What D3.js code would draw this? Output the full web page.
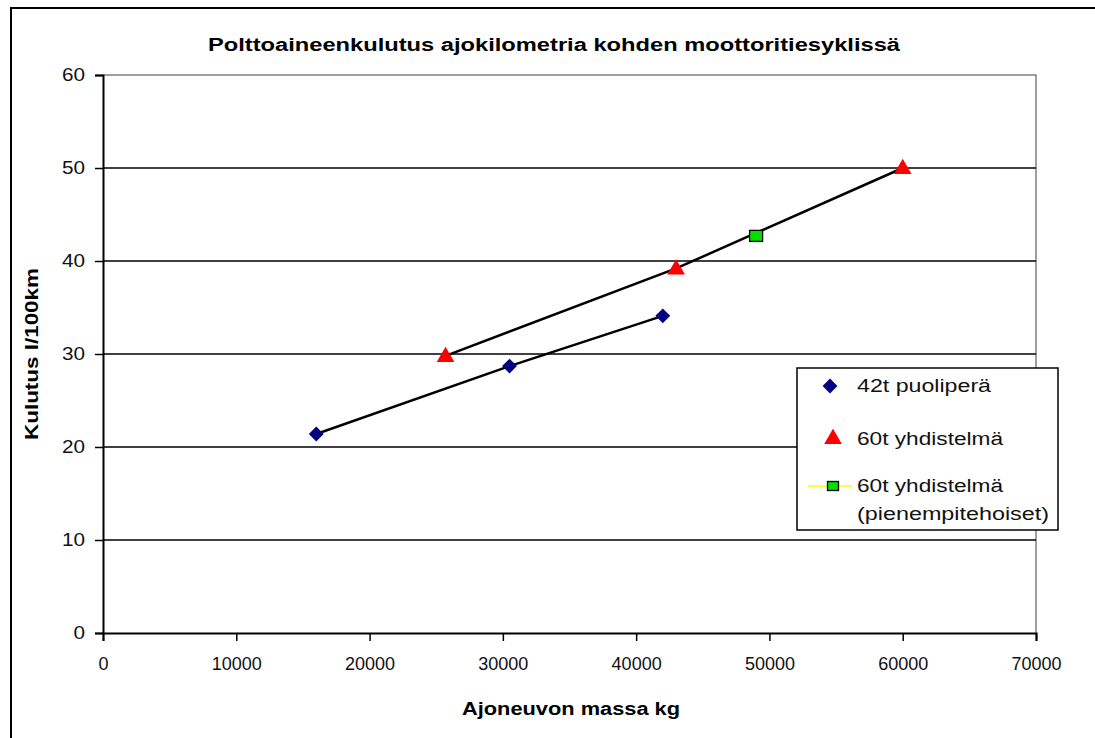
<!DOCTYPE html>
<html>
<head>
<meta charset="utf-8">
<script src="https://cdn.jsdelivr.net/npm/d3@7/dist/d3.min.js"></script>
<style>
  html, body { margin: 0; padding: 0; background: #fff; }
  svg { display: block; font-family: "Liberation Sans", Arial, sans-serif; }
</style>
</head>
<body>
<svg id="chart" width="1095" height="738"></svg>
<script>
// Fuel consumption per 100 km on the motorway cycle vs. vehicle mass
const massSemi = [16000, 30500, 42000];      // 42t puoliperä
const fuelSemi = [21.4, 28.7, 34.1];
const massCombo = [25700, 43000, 60000];     // 60t yhdistelmä
const fuelCombo = [29.8, 39.2, 50.0];
const massComboLow = [49000];                // 60t yhdistelmä (pienempitehoiset)
const fuelComboLow = [42.7];

const xTicks = [0, 10000, 20000, 30000, 40000, 50000, 60000, 70000];
const yTicks = [0, 10, 20, 30, 40, 50, 60];

const titleText = "Polttoaineenkulutus ajokilometria kohden moottoritiesyklissä";
const xTitle = "Ajoneuvon massa kg";
const yTitle = "Kulutus l/100km";
const legendLabels = ["42t puoliperä", "60t yhdistelmä", "60t yhdistelmä", "(pienempitehoiset)"];

const svg = d3.select("#chart");
const W = 1095, H = 738;
const plot = { left: 103, right: 1036, top: 75, bottom: 633 };

const x = d3.scaleLinear().domain([0, 70000]).range([plot.left, plot.right]);
const y = d3.scaleLinear().domain([0, 60]).range([plot.bottom, plot.top]);

// widen text horizontally by a factor
function stretch(sel, f) {
  sel.each(function () {
    const len = this.getComputedTextLength();
    d3.select(this).attr("textLength", len * f).attr("lengthAdjust", "spacingAndGlyphs");
  });
}

// outer frame
svg.append("path")
  .attr("d", `M11,${H} L11,8 L${W},8`)
  .attr("fill", "none").attr("stroke", "#000").attr("stroke-width", 2);

// plot frame (top and right)
svg.append("path")
  .attr("d", `M${plot.left},${plot.top} L${plot.right},${plot.top} L${plot.right},${plot.bottom}`)
  .attr("fill", "none").attr("stroke", "#808080").attr("stroke-width", 1.5);

// horizontal gridlines
svg.append("g").selectAll("line")
  .data(yTicks.filter(d => d > 0 && d < 60))
  .join("line")
  .attr("x1", plot.left).attr("x2", plot.right)
  .attr("y1", d => y(d)).attr("y2", d => y(d))
  .attr("stroke", "#000").attr("stroke-width", 1.5);

// axes
const xAxis = svg.append("g")
  .attr("transform", `translate(0,${plot.bottom})`)
  .call(d3.axisBottom(x).tickValues(xTicks).tickSize(8).tickPadding(16).tickFormat(d3.format("d")));
const yAxis = svg.append("g")
  .attr("transform", `translate(${plot.left},0)`)
  .call(d3.axisLeft(y).tickValues(yTicks).tickSize(8).tickPadding(10).tickFormat(d3.format("d")));

[xAxis, yAxis].forEach(g => {
  g.select(".domain").attr("stroke", "#000").attr("stroke-width", 2);
  g.selectAll(".tick line").attr("stroke", "#000").attr("stroke-width", 1.5);
  g.selectAll(".tick text").attr("fill", "#111").attr("font-size", 18)
    .attr("font-family", "'Liberation Sans', Arial, sans-serif");
});
yAxis.selectAll(".tick text").call(stretch, 1.15);

// title and axis titles
svg.append("text")
  .attr("x", 554).attr("y", 51)
  .attr("text-anchor", "middle").attr("font-weight", "bold").attr("font-size", 18)
  .text(titleText)
  .attr("textLength", 692).attr("lengthAdjust", "spacingAndGlyphs");

svg.append("text")
  .attr("x", 571).attr("y", 715)
  .attr("text-anchor", "middle").attr("font-weight", "bold").attr("font-size", 18)
  .text(xTitle)
  .attr("textLength", 218).attr("lengthAdjust", "spacingAndGlyphs");

svg.append("text")
  .attr("transform", "translate(38,354) rotate(-90)")
  .attr("text-anchor", "middle").attr("font-weight", "bold").attr("font-size", 18)
  .text(yTitle)
  .attr("textLength", 172).attr("lengthAdjust", "spacingAndGlyphs");

// connecting lines
const line = d3.line().x(d => x(d[0])).y(d => y(d[1]));
svg.append("path")
  .datum(d3.zip(massSemi, fuelSemi))
  .attr("d", line).attr("fill", "none").attr("stroke", "#000").attr("stroke-width", 2.5);
svg.append("path")
  .datum(d3.zip(massCombo, fuelCombo))
  .attr("d", line).attr("fill", "none").attr("stroke", "#000").attr("stroke-width", 2.5);

// markers
const diamond = d3.symbol().type(d3.symbolDiamond2).size(140);
const triangle = d3.symbol().type(d3.symbolTriangle).size(135);

svg.append("g").selectAll("path")
  .data(d3.zip(massSemi, fuelSemi))
  .join("path")
  .attr("d", diamond)
  .attr("transform", d => `translate(${x(d[0])},${y(d[1])})`)
  .attr("fill", "#000080");

svg.append("g").selectAll("path")
  .data(d3.zip(massCombo, fuelCombo))
  .join("path")
  .attr("d", triangle)
  .attr("transform", d => `translate(${x(d[0])},${y(d[1]) + 1})`)
  .attr("fill", "#ff0000");

svg.append("g").selectAll("rect")
  .data(d3.zip(massComboLow, fuelComboLow))
  .join("rect")
  .attr("x", d => x(d[0]) - 6.5).attr("y", d => y(d[1]) - 5.5)
  .attr("width", 13).attr("height", 11)
  .attr("fill", "#00e000").attr("stroke", "#000").attr("stroke-width", 1.3);

// legend
const lg = svg.append("g");
lg.append("rect")
  .attr("x", 797).attr("y", 368).attr("width", 261).attr("height", 162)
  .attr("fill", "#fff").attr("stroke", "#000").attr("stroke-width", 1.5);

lg.append("path").attr("d", diamond).attr("transform", "translate(830,386)").attr("fill", "#000080");
lg.append("path").attr("d", triangle).attr("transform", "translate(833,439)").attr("fill", "#ff0000");
lg.append("line").attr("x1", 808).attr("x2", 852).attr("y1", 486).attr("y2", 486)
  .attr("stroke", "#ffff00").attr("stroke-width", 1.5);
lg.append("rect").attr("x", 827.5).attr("y", 481.5).attr("width", 11).attr("height", 9)
  .attr("fill", "#00e000").attr("stroke", "#000").attr("stroke-width", 1.3);

const legendY = [392, 445, 492, 520];
const legendW = [134, 146, 146, 192];
lg.selectAll("text.lbl")
  .data(legendLabels)
  .join("text")
  .attr("class", "lbl")
  .attr("x", 857).attr("y", (d, i) => legendY[i])
  .attr("font-size", 18).attr("fill", "#111")
  .text(d => d)
  .attr("textLength", (d, i) => legendW[i]).attr("lengthAdjust", "spacingAndGlyphs");
</script>
</body>
</html>
